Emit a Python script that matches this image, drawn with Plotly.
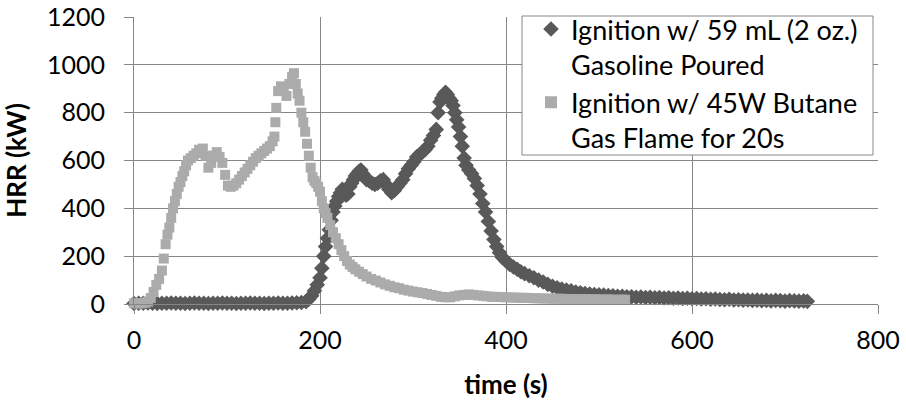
import plotly.graph_objects as go

# ---- data ----
gas_t = [0, 5, 10, 15, 20, 25, 30, 35, 40, 45, 50, 55, 60, 65, 70, 75, 80, 85, 90, 95,
         100, 105, 110, 115, 120, 125, 130, 135, 140, 145, 150, 155, 160, 165, 170, 175, 180,
         185, 188, 191, 194, 197, 200, 202, 204, 206, 208, 210, 212, 214, 216, 218, 220, 222,
         224, 226, 228, 230, 232, 234, 236, 238, 240, 242, 244, 246, 248, 250, 253, 256, 259,
         262, 265, 268, 271, 274, 277, 280, 283, 286, 289, 292, 295, 298, 301, 304, 307, 310,
         313, 316, 319, 322, 325, 327, 329, 331, 333, 335, 337, 339, 341, 343, 345, 347, 349,
         351, 353, 355, 357, 360, 363, 366, 369, 372, 375, 378, 381, 384, 387, 390, 393, 396,
         400, 404, 408, 412, 416, 420, 425, 430, 435, 440, 445, 450, 455, 460, 465, 470, 475,
         480, 485, 490, 495, 500, 505, 510, 515, 520, 525, 530, 535, 540, 545, 550, 555, 560,
         565, 570, 575, 580, 585, 590, 595, 600, 605, 610, 615, 620, 625, 630, 635, 640, 645,
         650, 655, 660, 665, 670, 675, 680, 685, 690, 695, 700, 705, 710, 715, 720, 724]
gas_hrr = [2, 3, 3, 4, 3, 2, 3, 3, 4, 3, 3, 2, 3, 4, 3, 3, 2, 3, 3, 4,
           3, 3, 2, 3, 3, 4, 3, 3, 2, 3, 3, 4, 3, 3, 4, 5, 6,
           10, 20, 35, 55, 80, 110, 150, 200, 240, 275, 310, 350, 385, 410, 430, 450, 465,
           480, 470, 455, 460, 490, 505, 520, 535, 545, 555, 560, 545, 530, 520, 515, 505, 500,
           505, 515, 520, 500, 480, 465, 475, 490, 505, 520, 545, 565, 580, 595, 615, 625, 635,
           645, 660, 685, 705, 730, 800, 845, 860, 875, 885, 875, 860, 850, 830, 800, 770, 740,
           700, 660, 610, 580, 560, 545, 525, 495, 460, 420, 385, 345, 305, 270, 240, 215, 195,
           180, 165, 155, 145, 135, 127, 118, 110, 100, 92, 82, 74, 68, 62, 58, 55, 50,
           47, 44, 42, 40, 38, 37, 35, 34, 32, 32, 30, 30, 28, 29, 27, 28, 26,
           27, 25, 26, 24, 25, 23, 24, 22, 23, 21, 22, 20, 21, 19, 18, 20, 17,
           18, 16, 17, 15, 16, 14, 15, 13, 15, 14, 12, 14, 13, 12, 13, 11]

but_t = [0, 4, 8, 12, 15, 18, 21, 24, 27, 30, 32, 34, 36, 38, 40, 42, 44, 46, 48, 50,
         52, 54, 56, 58, 61, 64, 67, 70, 74, 77, 80, 83, 86, 89, 92, 95, 98, 101, 104, 107,
         110, 113, 116, 119, 122, 125, 128, 131, 134, 137, 140, 143, 146, 149, 151, 152, 153,
         155, 158, 161, 164, 167, 170, 172, 174, 176, 178, 180, 182, 184, 186, 188, 190, 192,
         194, 196, 198, 200, 202, 204, 206, 208, 211, 214, 217, 220, 223, 226, 229, 232, 235,
         238, 242, 246, 250, 255, 260, 265, 270, 275, 280, 285, 290, 295, 300, 305, 310, 315,
         320, 325, 330, 335, 340, 345, 350, 355, 360, 365, 370, 375, 380, 385, 390, 395, 400,
         405, 410, 415, 420, 425, 430, 435, 440, 445, 450, 455, 460, 465, 470, 475, 480, 485,
         490, 495, 500, 505, 510, 515, 520, 525, 528]
but_hrr = [3, 2, 3, 5, 10, 25, 50, 80, 105, 140, 190, 250, 290, 320, 360, 400, 430, 460, 490, 510,
           535, 555, 580, 600, 610, 620, 630, 645, 650, 620, 570, 590, 620, 635, 615, 590, 540, 495, 490, 495,
           505, 520, 535, 550, 565, 580, 595, 610, 620, 630, 640, 650, 660, 680, 700, 760, 820,
           890, 910, 900, 870, 920, 950, 965, 920, 880, 850, 800, 760, 720, 670, 620, 570, 530,
           515, 505, 490, 470, 430, 400, 380, 360, 330, 300, 275, 250, 225, 200, 180, 165, 155,
           145, 135, 125, 115, 105, 98, 90, 82, 76, 70, 66, 60, 56, 52, 49, 46, 42,
           38, 34, 30, 28, 28, 32, 36, 38, 40, 38, 36, 34, 32, 30, 30, 29, 28,
           27, 27, 26, 26, 25, 24, 24, 23, 23, 22, 22, 22, 21, 21, 21, 20, 20,
           20, 20, 19, 19, 19, 18, 18, 18, 18]

gas_name = "Ignition w/ 59 mL (2 oz.)<br>Gasoline Poured"
but_name = "Ignition w/ 45W Butane<br>Gas Flame for 20s"
x_ticks = [0, 200, 400, 600, 800]
y_ticks = [0, 200, 400, 600, 800, 1000, 1200]

FONT = "Lato"
GRID = "#868686"

# plot area in pixels
L, R, T, B = 134, 878, 17, 304
W, H = R - L, B - T

def px_x(p):
    return (p - L) / W

def px_y(p):
    return (B - p) / H

fig = go.Figure()
fig.add_trace(go.Scatter(
    x=gas_t, y=gas_hrr, mode="markers", name=gas_name, cliponaxis=False,
    marker=dict(symbol="diamond", size=12, color="#595959", line=dict(width=0))))
fig.add_trace(go.Scatter(
    x=but_t, y=but_hrr, mode="markers", name=but_name, cliponaxis=False,
    marker=dict(symbol="square", size=10, color="#ababab", line=dict(width=0))))

# legend box
fig.add_shape(type="rect", xref="paper", yref="paper",
              x0=px_x(522), x1=px_x(873), y0=px_y(155), y1=px_y(16),
              fillcolor="white", line=dict(color=GRID, width=1), layer="above")

fig.update_layout(
    template="none",
    width=906, height=407,
    margin=dict(l=L, r=906 - R, t=T, b=407 - B, autoexpand=False),
    paper_bgcolor="white", plot_bgcolor="white",
    font=dict(family=FONT, size=25, color="black"),
    showlegend=True,
    legend=dict(x=px_x(531), y=px_y(5), xanchor="left", yanchor="top",
                bgcolor="rgba(0,0,0,0)", borderwidth=0,
                font=dict(family=FONT, size=27, color="black"),
                valign="top", tracegroupgap=0, itemsizing="constant"),
    xaxis=dict(range=[0, 800], tickvals=x_ticks, showgrid=True, gridcolor=GRID, gridwidth=1,
               showline=True, linecolor=GRID, linewidth=1, zeroline=False, automargin=False,
               ticks="outside", ticklen=9, tickcolor=GRID, tickwidth=1,
               ticklabelstandoff=5,
               tickfont=dict(family=FONT, size=25),
               title=dict(text="<b>time (s)</b>", font=dict(family=FONT, size=26), standoff=22)),
    yaxis=dict(range=[0, 1200], tickvals=y_ticks, showgrid=True, gridcolor=GRID, gridwidth=1,
               showline=True, linecolor=GRID, linewidth=1, zeroline=False, automargin=False,
               ticks="outside", ticklen=9, tickcolor=GRID, tickwidth=1,
               ticklabelstandoff=14,
               tickfont=dict(family=FONT, size=25),
               title=dict(text="<b>HRR (kW)</b>", font=dict(family=FONT, size=26), standoff=14)),
)
fig.write_html("out.html")
